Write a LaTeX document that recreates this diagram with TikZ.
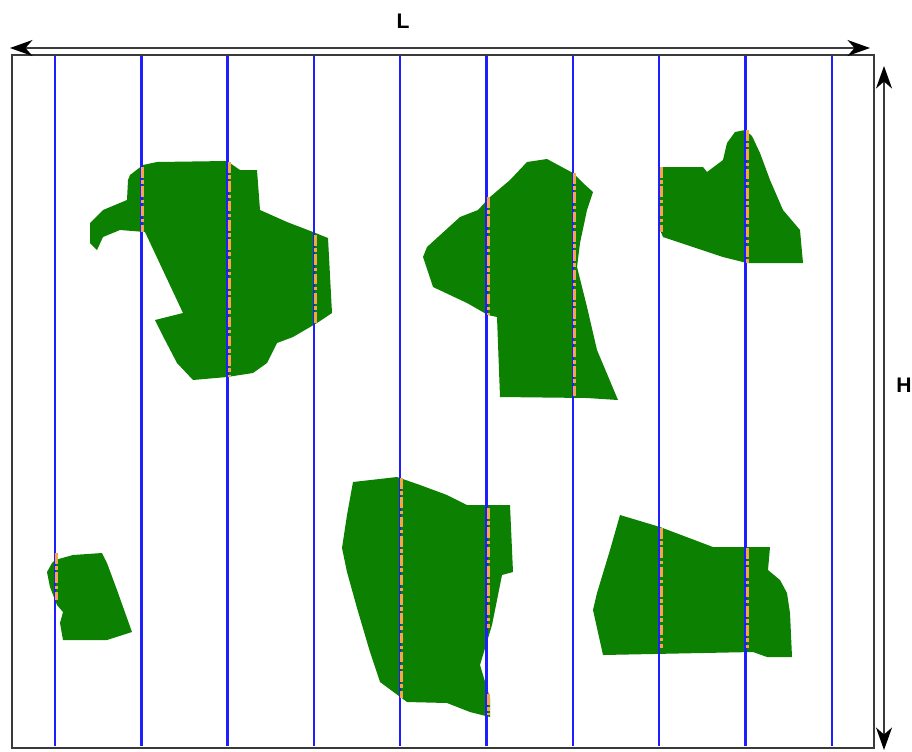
\documentclass[tikz,border=0pt]{standalone}
\usepackage{fontspec}
\setsansfont{Liberation Sans}
\usepackage{xcolor}
\usetikzlibrary{arrows.meta}
\definecolor{verde}{HTML}{0C8000}
\definecolor{azul}{HTML}{1E1EFF}
\definecolor{naranja}{HTML}{F5A54A}
\definecolor{gris}{HTML}{3A3A3A}

\begin{document}
\begin{tikzpicture}[
  x=0.02cm, y=-0.02cm,
  font=\sffamily\bfseries,
  marco/.style={draw=gris, line width=1.1pt},
  cota/.style={{Stealth[length=4.5mm, width=3.2mm, inset=1.4mm, black]}-{Stealth[length=4.5mm, width=3.2mm, inset=1.4mm, black]}, line width=1.1pt, gris},
  linea/.style={fill=azul},
  mancha/.style={fill=verde},
  corte/.style={naranja, line width=1.7pt, dash pattern=on 6pt off 1.5pt on 2pt off 1.5pt},
  rotulo/.style={font=\sffamily\bfseries\large, text=black},
]
\useasboundingbox (0,0) rectangle (912,751);

% --- Marco del terreno ---
\draw[marco] (12,55) rectangle (874,748);

% --- Manchas verdes ---
\fill[mancha] (130,175) -- (143,165) -- (157,162) -- (227,161) -- (240,170) -- (257,170)
  -- (260,210) -- (287,222) -- (313,232) -- (328,238) -- (332,313) -- (317,323)
  -- (293,337) -- (277,343) -- (267,363) -- (253,373) -- (227,377) -- (193,380)
  -- (177,363) -- (165,340) -- (155,320) -- (183,313) -- (145,232) -- (120,230)
  -- (103,237) -- (97,250) -- (90,243) -- (90,223) -- (103,210) -- (127,200)
  -- (128,180) -- cycle;
\fill[mancha] (527,162) -- (547,159) -- (573,173) -- (583,183) -- (593,192) -- (587,210)
  -- (580,243) -- (577,267) -- (587,307) -- (597,350) -- (618,400) -- (587,398)
  -- (500,397) -- (497,317) -- (488,315) -- (467,303) -- (433,287) -- (423,257)
  -- (427,247) -- (460,217) -- (478,210) -- (490,197) -- (510,180) -- cycle;
\fill[mancha] (660,167) -- (703,167) -- (707,172) -- (723,160) -- (727,143) -- (735,132)
  -- (745,130) -- (752,136) -- (760,153) -- (770,180) -- (783,210) -- (800,230) -- (803,263)
  -- (747,263) -- (723,257) -- (663,237) -- (660,230) -- cycle;
\fill[mancha] (55,560) -- (73,555) -- (102,553) -- (107,563) -- (117,590) -- (132,632)
  -- (107,640) -- (63,640) -- (60,623) -- (63,612) -- (57,605) -- (50,587)
  -- (47,572) -- (52,563) -- cycle;
\fill[mancha] (353,482) -- (397,477) -- (420,485) -- (447,495) -- (467,505) -- (510,505)
  -- (513,572) -- (502,575) -- (492,625) -- (480,665) -- (490,698) -- (490,717)
  -- (470,712) -- (447,703) -- (407,702) -- (380,682) -- (370,652) -- (357,608)
  -- (347,572) -- (342,548) -- (347,515) -- cycle;
\fill[mancha] (620,515) -- (660,527) -- (713,547) -- (770,547) -- (768,570) -- (780,580)
  -- (787,593) -- (790,613) -- (792,657) -- (767,657) -- (753,652) -- (603,655)
  -- (593,610) -- (597,593) -- (610,550) -- cycle;

% --- Lineas de muestreo ---
\foreach \i in {0,...,9}
  \fill[linea] ({53.8+86.3*\i},56) rectangle ({56.2+86.3*\i},746);

% --- Tramos dentro de las manchas ---
\foreach \x/\ya/\yb in {141/167/232, 228/162/377, 314/235/325, 487/197/315,
    573/173/398, 660/167/232, 746/130/263, 55/553/600, 400/478/698,
    487/508/628, 487/694/715, 660/528/648, 746/548/648}
  \draw[corte] (\x+1.5,\ya) -- (\x+1.5,\yb);

% --- Cotas ---
\coordinate (li) at (10,48);
\coordinate (ld) at (870,48);
\coordinate (hs) at (884,66);
\coordinate (hi) at (884,750);
\draw[cota] (li) -- (ld);
\draw[cota] (hs) -- (hi);
\node[rotulo] (L) at (403,21) {L};
\node[rotulo] (H) at (904,385) {H};

\end{tikzpicture}
\end{document}
